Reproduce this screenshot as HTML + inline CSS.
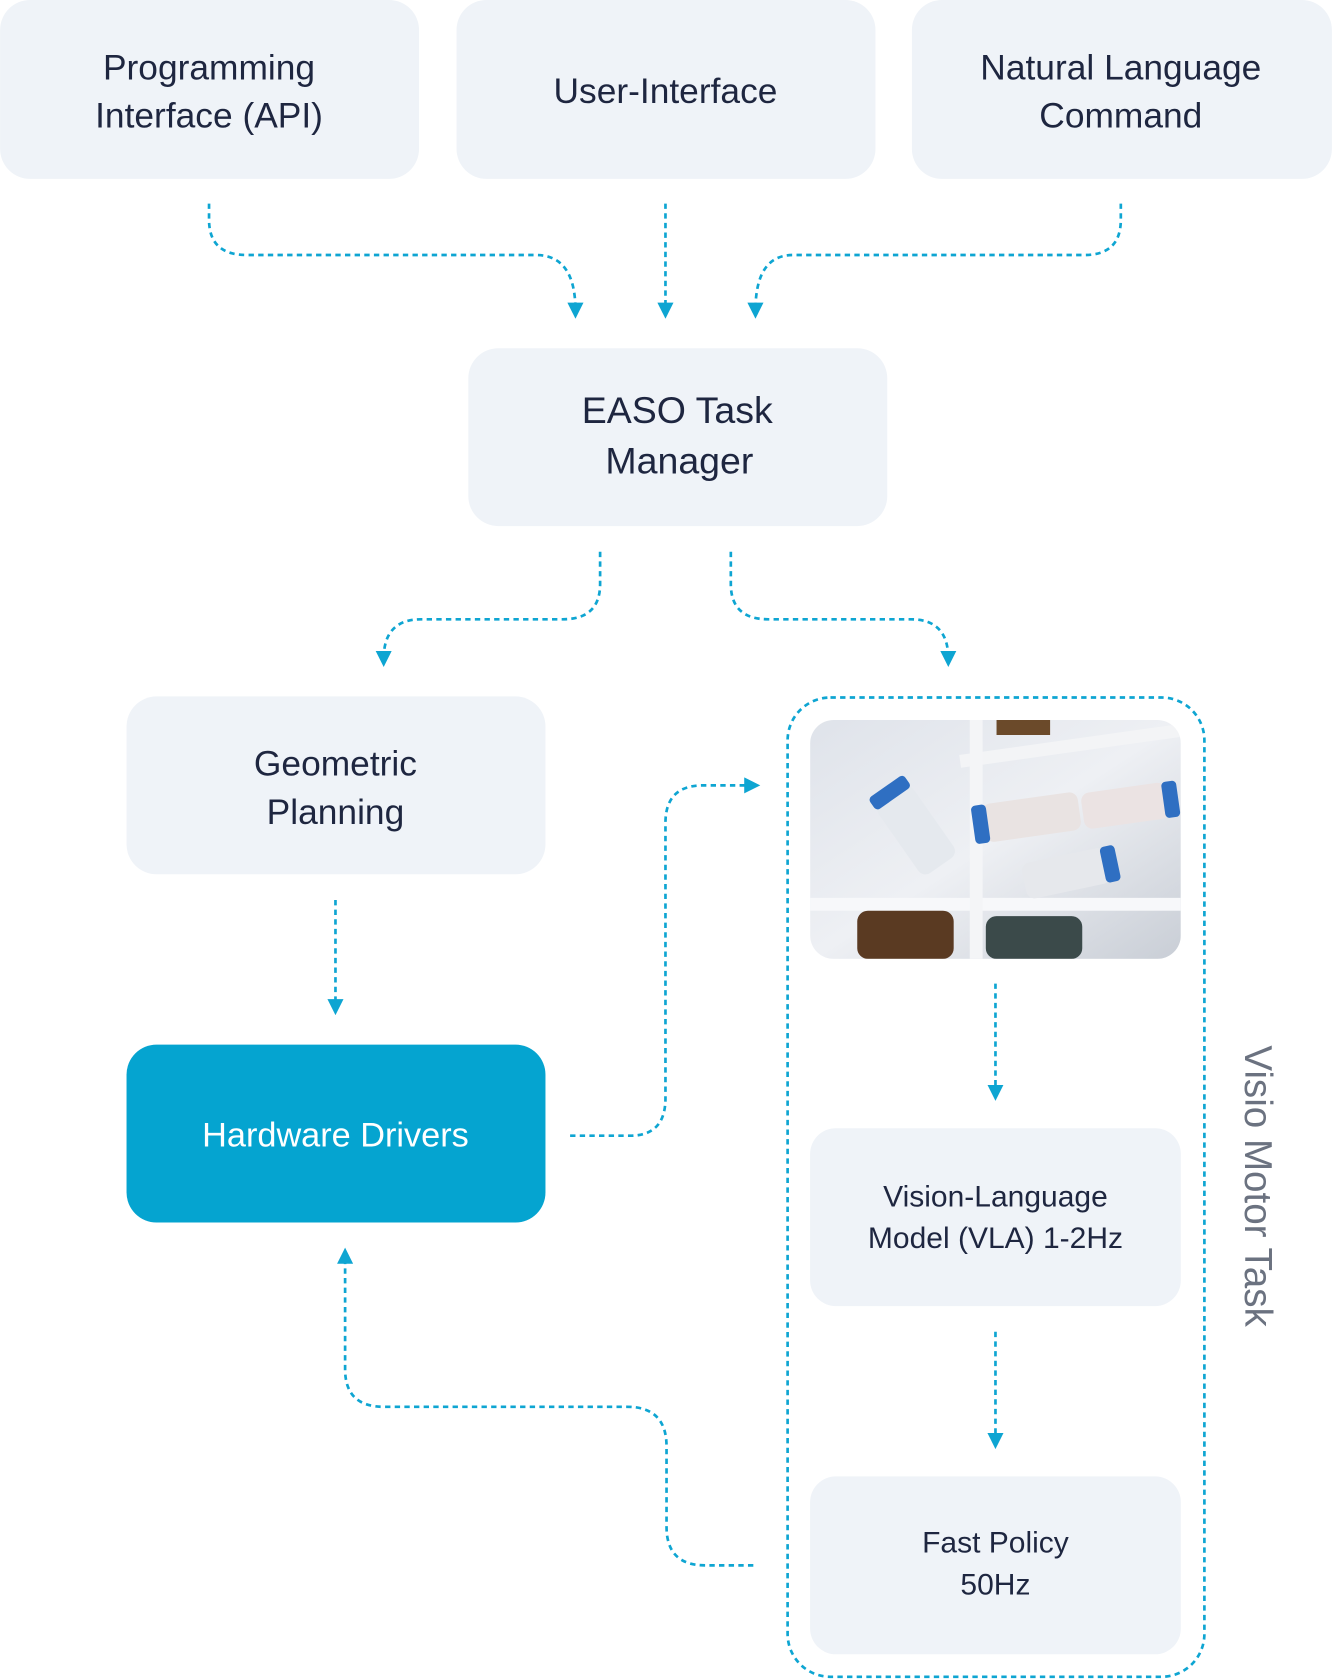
<!DOCTYPE html>
<html><head><meta charset="utf-8"><style>
html,body{margin:0;padding:0;background:#fff;}
svg{display:block;}
text{font-family:"Liberation Sans",sans-serif;}
</style></head><body>
<svg width="1332" height="1680" viewBox="0 0 1243 1568" xmlns="http://www.w3.org/2000/svg">
<defs>
<marker id="ah" viewBox="0 0 10 10" refX="5" refY="5" markerWidth="6" markerHeight="6" orient="auto"><path d="M0,0 L10,5 L0,10 z" fill="#0ea5d2"/></marker>
<linearGradient id="img" x1="0" y1="0" x2="1" y2="1"><stop offset="0" stop-color="#dfe3ea"/><stop offset="0.5" stop-color="#eef0f4"/><stop offset="1" stop-color="#c9ced6"/></linearGradient>
<clipPath id="ic"><rect x="756" y="672" width="346" height="223" rx="22"/></clipPath>
</defs>
<g fill="#eff3f8">
<rect x="0" y="0" width="391" height="167" rx="28"/>
<rect x="426" y="0" width="391" height="167" rx="28"/>
<rect x="851" y="0" width="392" height="167" rx="28"/>
<rect x="437" y="325" width="391" height="166" rx="28"/>
<rect x="118" y="650" width="391" height="166" rx="28"/>
<rect x="756" y="1053" width="346" height="166" rx="24"/>
<rect x="756" y="1378" width="346" height="166" rx="24"/>
</g>
<rect x="118" y="975" width="391" height="166" rx="28" fill="#05a4d0"/>
<g fill="#1e2640" font-size="33" text-anchor="middle">
<text x="195" y="74">Programming</text>
<text x="195" y="119">Interface (API)</text>
<text x="621" y="96">User-Interface</text>
<text x="1046" y="74">Natural Language</text>
<text x="1046" y="119">Command</text>
<text x="632" y="395" font-size="35">EASO Task</text>
<text x="634" y="442" font-size="35">Manager</text>
<text x="313" y="724">Geometric</text>
<text x="313" y="769">Planning</text>
<text x="929" y="1126" font-size="28">Vision-Language</text>
<text x="929" y="1165" font-size="28">Model (VLA) 1-2Hz</text>
<text x="929" y="1449" font-size="28">Fast Policy</text>
<text x="929" y="1488" font-size="28">50Hz</text>
</g>
<text x="313" y="1070" fill="#fff" font-size="32" text-anchor="middle">Hardware Drivers</text>
<text transform="translate(1162,1107) rotate(90)" fill="#6b7280" font-size="36" text-anchor="middle">Visio Motor Task</text>
<g clip-path="url(#ic)">
<rect x="756" y="672" width="346" height="223" fill="url(#img)"/>
<rect x="756" y="838" width="346" height="12" fill="#f7f8fa"/>
<rect x="895" y="690" width="210" height="12" fill="#f3f4f6" transform="rotate(-8 1000 696)"/>
<rect x="905" y="672" width="12" height="223" fill="#f4f5f7"/>
<g transform="rotate(55 855 775)"><rect x="815" y="755" width="80" height="40" rx="8" fill="#e5e9ee"/><rect x="805" y="755" width="14" height="40" rx="4" fill="#2f6fc2"/></g>
<g transform="rotate(-8 960 765)"><rect x="918" y="745" width="90" height="36" rx="8" fill="#e9e3e2"/><rect x="908" y="745" width="14" height="36" rx="4" fill="#2f6fc2"/></g>
<g transform="rotate(-8 1050 752)"><rect x="1010" y="735" width="80" height="34" rx="8" fill="#ebe3e3"/><rect x="1086" y="735" width="14" height="34" rx="4" fill="#2f6fc2"/></g>
<g transform="rotate(-12 995 815)"><rect x="955" y="798" width="80" height="34" rx="8" fill="#e6e8ec"/><rect x="1030" y="798" width="14" height="34" rx="4" fill="#2f6fc2"/></g>
<rect x="800" y="850" width="90" height="45" rx="10" fill="#5a3a22"/>
<rect x="920" y="855" width="90" height="40" rx="10" fill="#3b4a4a"/>
<rect x="930" y="672" width="50" height="14" fill="#6b4a2a"/>
</g>
<g fill="none" stroke="#0ea5d2" stroke-width="2.5" stroke-dasharray="5 4">
<path d="M195,190 V205 Q195,238 230,238 H500 Q537,238 537,290" marker-end="url(#ah)"/>
<path d="M621,190 V290" marker-end="url(#ah)"/>
<path d="M1046,190 V205 Q1046,238 1012,238 H740 Q705,238 705,290" marker-end="url(#ah)"/>
<path d="M560,515 V545 Q560,578 525,578 H393 Q358,578 358,615" marker-end="url(#ah)"/>
<path d="M682,515 V545 Q682,578 717,578 H850 Q885,578 885,615" marker-end="url(#ah)"/>
<path d="M313,840 V940" marker-end="url(#ah)"/>
<path d="M532,1060 H588 Q621,1060 621,1025 V768 Q621,733 656,733 H702" marker-end="url(#ah)"/>
<path d="M929,918 V1020" marker-end="url(#ah)"/>
<path d="M929,1243 V1345" marker-end="url(#ah)"/>
<path d="M703,1461 H658 Q622,1461 622,1425 V1350 Q622,1313 585,1313 H358 Q322,1313 322,1278 V1172" marker-end="url(#ah)"/>
<rect x="735" y="651" width="389" height="914" rx="40"/>
</g>
</svg>
</body></html>
